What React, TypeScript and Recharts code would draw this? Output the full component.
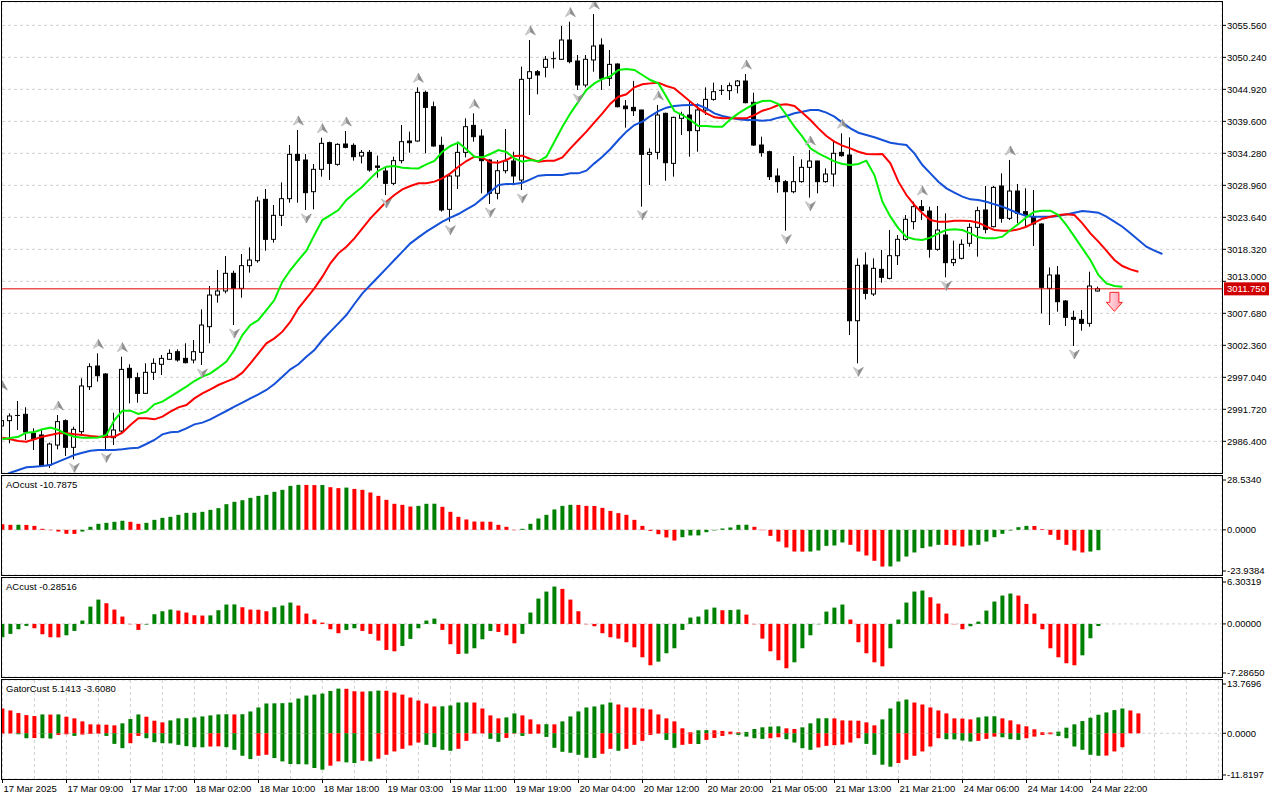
import React from 'react';
import {
  ComposedChart,
  Bar,
  Line,
  Scatter,
  XAxis,
  YAxis,
  CartesianGrid,
  ReferenceLine,
  Cell
} from 'recharts';

const FONT = "'Liberation Sans', Arial, sans-serif";
const UP = '#008000';
const DOWN = '#ff0000';
const GRID = '#d0d0d0';

// H1 candles, 17 Mar 01:00 .. 24 Mar 23:00
const OPEN = [
  2988.95, 2989.83, 2990.6, 2990.89, 2987.72, 2987.45, 2982.46, 2985.78, 2989.83, 2985.4,
  2988.0, 2995.48, 2998.92, 2997.59, 2987.0, 2988.11, 2998.53, 2996.98, 2994.37, 2997.87,
  2999.2, 3000.03, 3001.3, 3000.19, 2999.92, 3001.19, 3005.46, 3010.72, 3011.39, 3014.33,
  3011.83, 3015.6, 3016.43, 3026.63, 3019.98, 3023.97, 3026.74, 3034.11, 3033.17, 3027.9,
  3031.62, 3036.05, 3032.45, 3035.83, 3035.61, 3033.83, 3034.44, 3032.17, 3031.34, 3029.29,
  3033.06, 3036.33, 3036.33, 3044.42, 3042.03, 3035.61, 3024.97, 3030.51, 3034.44, 3038.93,
  3037.16, 3033.17, 3027.63, 3031.39, 3033.0, 3029.84, 3046.75, 3047.85, 3048.58, 3049.91,
  3049.91, 3053.12, 3049.63, 3045.64, 3049.8, 3052.29, 3046.75, 3049.13, 3042.14, 3041.92,
  3041.48, 3034.11, 3034.44, 3040.93, 3032.61, 3040.1, 3040.65, 3038.05, 3041.48, 3043.25,
  3044.64, 3044.7, 3045.53, 3046.3, 3042.76, 3035.66, 3034.55, 3030.51, 3029.57, 3027.9,
  3029.57, 3031.95, 3033.0, 3029.57, 3030.84, 3034.44, 3034.0, 3006.45, 3015.71, 3010.89,
  3014.99, 3013.49, 3017.26, 3019.98, 3022.92, 3025.41, 3024.69, 3018.32, 3020.7, 3016.1,
  3016.82, 3019.32, 3021.97, 3024.86, 3022.09, 3028.85, 3023.47, 3028.01, 3024.58, 3023.75,
  3022.53, 3011.83, 3014.05, 3009.73, 3007.01, 3006.68, 3006.01, 3011.39
];
const HIGH = [
  2994.1, 2991.05, 2993.1, 2992.05, 2988.56, 2988.28, 2986.17, 2990.77, 2990.05, 2988.83,
  2996.87, 2999.36, 3001.02, 2997.75, 2991.16, 3000.47, 2999.2, 2997.81, 2999.36, 3000.19,
  3000.75, 3001.69, 3001.69, 3002.69, 3003.24, 3008.34, 3012.22, 3014.88, 3017.21, 3014.77,
  3017.54, 3018.65, 3027.07, 3028.35, 3025.69, 3029.45, 3035.66, 3038.16, 3034.17, 3032.5,
  3036.88, 3036.22, 3035.94, 3037.99, 3035.94, 3034.83, 3034.83, 3033.89, 3032.06, 3033.72,
  3038.99, 3037.88, 3045.25, 3044.7, 3042.87, 3037.05, 3030.95, 3036.22, 3040.1, 3040.93,
  3038.27, 3033.28, 3033.17, 3038.32, 3034.55, 3048.69, 3053.12, 3048.13, 3050.46, 3051.18,
  3055.45, 3056.17, 3050.63, 3050.63, 3057.44, 3053.4, 3051.46, 3049.24, 3043.14, 3046.3,
  3041.54, 3035.11, 3042.31, 3041.04, 3040.37, 3041.2, 3043.14, 3042.59, 3045.25, 3046.03,
  3045.64, 3046.03, 3046.47, 3047.47, 3044.36, 3037.05, 3034.72, 3031.78, 3029.84, 3033.83,
  3033.28, 3034.83, 3033.06, 3031.78, 3036.22, 3037.6, 3036.94, 3016.82, 3017.82, 3016.82,
  3018.21, 3021.53, 3020.7, 3024.02, 3026.24, 3026.52, 3025.41, 3025.52, 3024.3, 3019.76,
  3019.98, 3022.64, 3025.41, 3028.85, 3028.85, 3030.95, 3033.17, 3029.18, 3028.46, 3028.18,
  3022.64, 3015.32, 3015.54, 3009.89, 3008.12, 3008.23, 3014.6, 3012.11
];
const LOW = [
  2988.28, 2986.06, 2988.28, 2986.62, 2984.95, 2982.29, 2981.96, 2985.06, 2983.96, 2983.4,
  2987.28, 2994.93, 2996.32, 2985.06, 2985.78, 2987.72, 2992.71, 2992.82, 2994.26, 2996.59,
  2997.42, 2999.92, 2999.64, 2999.36, 2999.36, 2999.09, 3002.69, 3009.45, 3011.0, 3005.73,
  3010.28, 3014.44, 3016.1, 3018.09, 3019.43, 3022.2, 3026.07, 3026.07, 3024.86, 3024.97,
  3030.4, 3029.84, 3032.23, 3035.11, 3033.06, 3032.61, 3031.23, 3030.23, 3027.35, 3029.01,
  3032.61, 3034.39, 3036.22, 3034.28, 3035.38, 3024.58, 3022.92, 3028.35, 3033.61, 3036.22,
  3027.63, 3025.85, 3026.63, 3030.95, 3029.29, 3028.18, 3040.65, 3044.09, 3046.91, 3048.41,
  3049.8, 3049.24, 3044.81, 3045.25, 3047.85, 3044.81, 3045.47, 3041.92, 3038.54, 3040.48,
  3025.41, 3029.01, 3033.28, 3029.73, 3030.4, 3037.32, 3033.72, 3034.55, 3040.65, 3043.03,
  3043.98, 3043.14, 3044.25, 3042.59, 3035.5, 3033.72, 3029.84, 3027.74, 3021.42, 3027.63,
  3029.4, 3026.91, 3027.63, 3029.4, 3028.74, 3033.72, 3004.07, 2999.36, 3010.0, 3010.56,
  3012.77, 3013.33, 3015.71, 3019.76, 3021.64, 3023.19, 3016.93, 3018.09, 3013.66, 3015.54,
  3016.65, 3018.76, 3017.1, 3020.98, 3021.97, 3022.75, 3023.19, 3022.64, 3022.2, 3018.87,
  3007.68, 3005.73, 3007.95, 3005.57, 3002.25, 3004.79, 3005.46, 3011.28
];
const CLOSE = [
  2989.83, 2990.61, 2990.7, 2987.95, 2986.83, 2982.4, 2985.95, 2989.67, 2985.4, 2988.39,
  2995.6, 2998.81, 2997.31, 2987.06, 2988.28, 2998.36, 2996.98, 2994.37, 2997.87, 2999.36,
  3000.19, 3001.02, 2999.92, 2999.47, 3001.3, 3005.73, 3010.72, 3011.39, 3014.33, 3011.83,
  3015.6, 3016.54, 3026.35, 3019.98, 3023.97, 3026.74, 3034.11, 3033.11, 3027.74, 3031.62,
  3035.94, 3032.61, 3035.77, 3035.27, 3033.72, 3034.44, 3031.51, 3031.95, 3029.29, 3033.06,
  3036.22, 3036.05, 3044.42, 3041.92, 3035.5, 3024.86, 3030.51, 3034.44, 3038.71, 3037.05,
  3033.06, 3027.63, 3031.39, 3033.0, 3030.51, 3046.58, 3047.85, 3047.3, 3049.91, 3050.02,
  3053.12, 3049.52, 3045.64, 3049.91, 3052.12, 3046.75, 3049.07, 3042.03, 3041.7, 3041.37,
  3034.11, 3034.44, 3040.65, 3032.72, 3040.26, 3040.76, 3038.05, 3041.48, 3043.25, 3044.53,
  3044.75, 3045.53, 3046.3, 3042.7, 3035.66, 3034.39, 3030.4, 3029.57, 3027.9, 3029.57,
  3031.95, 3033.0, 3029.57, 3030.84, 3034.28, 3033.89, 3006.45, 3015.65, 3011.0, 3015.16,
  3013.66, 3017.26, 3019.98, 3023.31, 3025.41, 3024.75, 3018.32, 3021.53, 3016.1, 3016.65,
  3019.15, 3021.97, 3024.75, 3021.64, 3028.62, 3023.47, 3028.01, 3024.3, 3024.02, 3022.53,
  3012.0, 3014.05, 3009.61, 3007.01, 3006.68, 3006.01, 3012.22, 3011.75
];

// Alligator lines (already shifted forward, so they run past the last candle)
const LIPS = [
  2986.73, 2986.95, 2987.17, 2987.83, 2987.95, 2988.39, 2988.67, 2988.28, 2987.61, 2987.17,
  2987.0, 2987.0, 2987.02, 2987.45, 2989.94, 2991.49, 2991.49, 2990.94, 2991.33, 2992.55,
  2992.99, 2993.82, 2994.65, 2995.48, 2996.42, 2997.15, 2997.7, 2998.64, 2999.64, 3001.58,
  3004.07, 3005.74, 3006.57, 3008.23, 3009.89, 3012.94, 3014.88, 3016.54, 3018.09, 3020.7,
  3023.19, 3024.02, 3024.85, 3026.52, 3027.63, 3028.73, 3030.12, 3031.39, 3032.06, 3032.17,
  3031.89, 3031.78, 3031.77, 3032.45, 3033.0, 3034.55, 3035.5, 3036.05, 3034.94, 3033.72,
  3033.61, 3034.17, 3034.83, 3034.5, 3033.44, 3032.89, 3033.17, 3032.95, 3033.72, 3036.22,
  3038.71, 3040.93, 3042.87, 3044.81, 3045.91, 3046.64, 3047.08, 3048.13, 3048.3, 3048.13,
  3047.3, 3046.47, 3045.91, 3043.7, 3041.31, 3040.65, 3039.82, 3038.82, 3038.82, 3038.71,
  3038.71, 3039.93, 3040.93, 3041.76, 3042.48, 3042.98, 3043.03, 3042.48, 3040.65, 3038.71,
  3037.05, 3035.11, 3034.28, 3033.61, 3032.95, 3032.5, 3032.34, 3032.5, 3033.06, 3030.67,
  3026.24, 3023.75, 3021.81, 3020.37, 3019.98, 3019.87, 3020.26, 3020.98, 3021.53, 3021.64,
  3021.53, 3020.98, 3020.31, 3020.14, 3020.14, 3020.42, 3021.53, 3022.53, 3023.64, 3024.58,
  3024.74, 3024.74, 3024.02, 3022.36, 3020.42, 3018.48, 3016.54, 3014.05, 3012.66, 3012.22,
  3012.11
];
const TEETH = [
  2987.0, 2986.73, 2986.45, 2986.34, 2986.73, 2987.17, 2987.45, 2987.72, 2987.72, 2987.56,
  2987.45, 2987.28, 2987.17, 2987.17, 2987.16, 2987.83, 2989.11, 2990.22, 2990.22, 2990.05,
  2990.49, 2991.33, 2992.05, 2992.43, 2993.54, 2994.37, 2995.04, 2995.76, 2996.31, 2996.87,
  2997.81, 2999.36, 3001.02, 3002.69, 3003.52, 3004.63, 3006.29, 3008.51, 3010.17, 3011.83,
  3013.77, 3015.99, 3017.65, 3018.76, 3020.14, 3021.81, 3023.47, 3024.85, 3026.24, 3027.35,
  3028.29, 3028.85, 3029.29, 3029.29, 3029.57, 3030.12, 3030.95, 3032.06, 3033.0, 3033.72,
  3033.56, 3032.78, 3032.72, 3033.17, 3033.83, 3033.89, 3033.33, 3032.89, 3033.06, 3033.06,
  3033.61, 3035.11, 3036.49, 3037.88, 3039.43, 3040.93, 3042.53, 3043.7, 3044.09, 3045.25,
  3045.75, 3045.91, 3046.03, 3045.47, 3045.08, 3043.97, 3042.87, 3041.76, 3040.93, 3040.26,
  3040.1, 3040.1, 3040.1, 3040.1, 3040.65, 3041.37, 3041.76, 3042.31, 3042.42, 3042.15,
  3041.04, 3039.82, 3038.43, 3037.16, 3036.22, 3035.55, 3035.11, 3034.55, 3034.17, 3034.11,
  3034.17, 3032.61, 3029.57, 3027.35, 3025.69, 3024.3, 3023.19, 3022.92, 3022.92, 3023.08,
  3023.08, 3023.03, 3022.75, 3022.08, 3021.53, 3021.42, 3021.42, 3021.64, 3022.08, 3022.75,
  3023.41, 3023.75, 3024.02, 3024.13, 3024.02, 3022.64, 3020.98, 3019.59, 3018.09, 3016.54,
  3015.54, 3014.99, 3014.6
];
const JAW = [
  2980.63, 2981.18, 2981.63, 2982.07, 2982.18, 2982.29, 2982.46, 2983.01, 2983.57, 2984.12,
  2984.51, 2984.84, 2984.95, 2984.95, 2984.96, 2985.06, 2985.23, 2985.34, 2985.95, 2986.62,
  2987.56, 2987.89, 2988.0, 2988.55, 2989.22, 2989.5, 2990.05, 2990.77, 2991.44, 2992.16,
  2992.82, 2993.54, 2994.21, 2994.93, 2995.93, 2997.15, 2998.36, 2999.2, 3000.47, 3001.58,
  3003.24, 3004.63, 3006.01, 3007.4, 3009.23, 3011.0, 3012.39, 3013.77, 3015.16, 3016.54,
  3017.93, 3019.31, 3020.31, 3021.25, 3022.08, 3022.92, 3023.58, 3024.19, 3024.97, 3025.69,
  3026.79, 3027.9, 3029.01, 3029.18, 3029.18, 3029.4, 3029.95, 3030.56, 3030.67, 3030.67,
  3030.68, 3030.95, 3030.95, 3031.39, 3032.61, 3033.72, 3035.0, 3036.49, 3037.88, 3038.99,
  3039.54, 3040.48, 3041.31, 3041.87, 3042.15, 3042.26, 3042.31, 3042.31, 3041.76, 3040.93,
  3040.48, 3040.21, 3039.93, 3039.82, 3039.82, 3039.71, 3039.82, 3040.21, 3040.48, 3040.93,
  3041.2, 3041.48, 3041.48, 3041.04, 3040.37, 3039.38, 3038.43, 3037.71, 3037.32, 3036.94,
  3036.49, 3036.05, 3035.83, 3035.66, 3034.28, 3032.34, 3030.95, 3029.57, 3028.46, 3027.74,
  3027.07, 3026.63, 3026.52, 3026.24, 3025.8, 3025.41, 3024.85, 3024.3, 3023.86, 3023.75,
  3023.75, 3023.74, 3023.86, 3024.13, 3024.41, 3024.69, 3024.58, 3024.41, 3023.75, 3022.92,
  3022.08, 3020.98, 3019.87, 3018.76, 3018.09, 3017.54
];

const UP_FRACTALS = [0, 7, 12, 15, 37, 40, 43, 52, 59, 66, 71, 74, 82, 93, 101, 105, 115, 126];
const DOWN_FRACTALS = [6, 9, 13, 25, 29, 38, 48, 56, 61, 65, 72, 80, 98, 101, 107, 118, 134];
const SELL_BARS = [139];
const SELL_PRICES = [3011.17];
const LAST_PRICE = 3011.75;

const AO = [
  3.0, 2.65, 2.7, 2.6, 2.1, 0.55, -0.2, -0.9, -2.1, -2.15,
  -0.9, 1.6, 3.2, 3.7, 4.25, 4.8, 4.25, 3.2, 3.7, 5.3,
  6.35, 6.9, 7.95, 9.0, 9.05, 9.55, 10.6, 11.5, 13.6, 14.85,
  15.7, 16.95, 18.0, 18.55, 20.15, 21.2, 23.3, 23.85, 23.8, 23.7,
  23.75, 22.6, 22.1, 22.4, 21.7, 21.2, 19.8, 18.0, 15.9, 13.8,
  13.25, 12.35, 12.7, 13.8, 13.85, 12.2, 9.55, 6.9, 5.5, 4.4,
  4.35, 4.3, 2.65, 1.6, -0.2, 0.55, 3.2, 6.0, 7.95, 10.8,
  12.7, 13.25, 13.2, 12.7, 12.65, 11.65, 10.05, 8.85, 7.95, 5.3,
  2.1, -0.55, -2.3, -4.05, -5.65, -3.9, -3.0, -2.95, -1.25, -0.3,
  0.7, 1.25, 2.65, 2.7, 1.6, -0.2, -3.2, -6.2, -9.35, -11.5,
  -11.55, -11.5, -10.95, -8.5, -8.3, -6.7, -7.95, -11.5, -13.6, -16.4,
  -19.45, -19.4, -16.8, -14.15, -12.0, -9.7, -8.85, -7.95, -8.0, -8.3,
  -8.85, -8.3, -7.95, -6.2, -3.9, -2.1, -0.35, 1.4, 2.1, 2.05,
  0.35, -2.65, -5.3, -7.95, -10.95, -12.0, -11.5, -10.7875
];
const AC = [
  -1.83, -1.37, -0.73, -0.27, -0.6, -1.42, -1.83, -1.85, -1.56, -0.96,
  0.46, 2.38, 3.34, 2.84, 1.97, 1.01, -0.05, -0.82, -0.09, 1.33,
  1.74, 1.97, 1.83, 1.56, 1.19, 1.15, 1.17, 1.88, 2.66, 2.68,
  2.29, 1.97, 1.95, 1.74, 2.29, 2.52, 2.93, 2.52, 1.42, 0.6,
  0.18, -0.73, -1.28, -0.82, -0.6, -0.96, -1.37, -2.29, -3.57, -3.76,
  -3.02, -2.06, -0.6, 0.46, 0.73, -0.82, -2.79, -4.12, -4.08, -3.34,
  -2.11, -0.96, -1.1, -1.56, -2.66, -1.37, 1.56, 3.48, 4.44, 5.13,
  4.81, 3.34, 1.74, -0.05, -0.32, -1.28, -1.83, -2.02, -2.52, -3.21,
  -4.58, -5.68, -5.18, -4.03, -3.34, -0.82, 0.87, 1.01, 1.97, 2.24,
  1.88, 1.9, 1.97, 1.28, -0.05, -2.02, -3.76, -4.99, -6.09, -5.27,
  -3.34, -1.56, -0.05, 1.69, 2.24, 2.66, 0.6, -2.52, -4.03, -5.27,
  -5.82, -3.34, 0.6, 2.93, 4.44, 4.58, 3.66, 2.79, 1.42, -0.05,
  -0.73, -0.32, 0.32, 1.83, 3.07, 3.89, 4.17, 3.89, 2.75, 1.42,
  -0.73, -3.34, -4.58, -5.4, -5.68, -4.31, -1.97, -0.28516
];
const GATOR_UP = [
  6.41, 5.9, 5.22, 4.7, 4.45, 4.87, 4.83, 4.88, 4.28, 3.85,
  3.08, 2.31, 2.27, 2.22, 2.05, 2.57, 3.68, 4.87, 4.28, 3.25,
  2.82, 3.33, 3.85, 3.89, 4.1, 4.36, 4.62, 4.87, 4.92, 4.87,
  4.92, 5.64, 6.67, 7.7, 7.74, 7.78, 7.95, 8.98, 9.75, 10.0,
  10.26, 10.94, 11.54, 11.5, 10.86, 10.77, 10.86, 11.03, 10.99, 10.52,
  10.0, 9.23, 8.46, 7.7, 6.93, 6.97, 7.18, 7.95, 7.99, 7.95,
  6.41, 4.62, 3.85, 4.1, 5.13, 4.62, 3.59, 2.31, 2.35, 2.31,
  3.08, 4.36, 5.64, 6.67, 6.93, 7.44, 7.95, 7.44, 6.67, 6.63,
  6.41, 6.16, 4.87, 3.85, 3.08, 1.28, 0.26, 0.77, 0.81, 0.77,
  0.6, 0.43, 0.26, 0.34, 1.11, 1.54, 1.71, 1.8, 1.28, 1.11,
  1.54, 2.57, 3.85, 3.89, 3.85, 3.33, 3.29, 3.25, 2.82, 2.05,
  3.59, 6.41, 8.21, 8.72, 7.95, 7.44, 6.67, 5.9, 5.13, 3.85,
  3.8, 3.59, 4.1, 4.36, 4.4, 3.85, 3.33, 2.31, 1.8, 1.03,
  0.26, 0.21, 0.43, 1.45, 2.31, 3.16, 4.02, 4.79, 5.39, 5.99,
  6.41, 5.9, 5.1413
];
const GATOR_DN = [
  -0.09, -0.04, -0.26, -1.28, -1.24, -1.28, -1.37, -0.43, -0.26, -0.68,
  -0.34, -0.17, -0.09, -0.68, -2.74, -3.85, -2.57, -0.68, -1.28, -2.31,
  -2.57, -2.61, -2.99, -3.33, -3.59, -3.63, -3.42, -3.38, -3.59, -4.28,
  -5.81, -6.67, -5.81, -5.56, -6.41, -7.27, -7.95, -7.99, -8.04, -8.98,
  -9.41, -8.38, -7.27, -7.52, -7.7, -7.1, -7.27, -6.58, -5.56, -4.7,
  -4.02, -3.16, -2.39, -2.99, -3.59, -4.28, -4.53, -4.02, -1.97, -0.09,
  -0.04, -1.45, -2.22, -1.2, -0.09, -0.68, -0.17, -0.09, -0.94, -3.76,
  -4.79, -5.04, -5.56, -6.33, -6.37, -5.3, -4.02, -4.53, -4.02, -2.99,
  -1.97, -0.43, -0.09, -1.71, -3.76, -2.99, -2.74, -2.78, -1.71, -1.2,
  -0.68, -0.26, -0.43, -0.86, -1.28, -1.45, -1.28, -1.03, -1.54, -2.39,
  -3.85, -4.28, -3.68, -3.25, -3.08, -2.91, -2.39, -1.28, -2.74, -5.56,
  -8.12, -8.64, -7.7, -6.84, -5.81, -4.7, -3.42, -1.28, -1.54, -1.58,
  -1.88, -2.14, -1.97, -1.45, -0.86, -1.03, -1.54, -1.71, -1.28, -0.86,
  -0.43, -0.26, -0.68, -1.28, -3.42, -4.28, -5.56, -5.81, -5.77, -4.7,
  -3.608
];

const PRICE_TICKS = [
  3055.56, 3050.24, 3044.92, 3039.6, 3034.28, 3028.96, 3023.64,
  3018.32, 3013.0, 3007.68, 3002.36, 2997.04, 2991.72, 2986.4
];
const TIME_LABELS = [
  '17 Mar 2025', '17 Mar 09:00', '17 Mar 17:00', '18 Mar 02:00', '18 Mar 10:00', '18 Mar 18:00',
  '19 Mar 03:00', '19 Mar 11:00', '19 Mar 19:00', '20 Mar 04:00', '20 Mar 12:00', '20 Mar 20:00',
  '21 Mar 05:00', '21 Mar 13:00', '21 Mar 21:00', '24 Mar 06:00', '24 Mar 14:00', '24 Mar 22:00'
];

const X_DOMAIN = [-0.05, 152.45];
const PRICE_DOMAIN = [2981.13, 3059.44];
const AO_RANGE = [-23.9384, 28.534];
const AC_RANGE = [-7.2865, 6.30319];
const GATOR_RANGE = [-11.8197, 13.7696];

// every 4th bar gets a grid line, every 8th a time label
const GRID_TICKS = Array.from({ length: 39 }, (_, k) => k * 4);

const rows = JAW.map((_, i) => ({
  i,
  range: i < OPEN.length ? [LOW[i], HIGH[i]] : null,
  o: i < OPEN.length ? OPEN[i] : null,
  h: i < OPEN.length ? HIGH[i] : null,
  l: i < OPEN.length ? LOW[i] : null,
  c: i < OPEN.length ? CLOSE[i] : null,
  lips: i < LIPS.length ? LIPS[i] : null,
  teeth: i < TEETH.length ? TEETH[i] : null,
  jaw: JAW[i],
  ao: i < AO.length ? AO[i] : null,
  ac: i < AC.length ? AC[i] : null,
  gu: i < GATOR_UP.length ? GATOR_UP[i] : null,
  gd: i < GATOR_DN.length ? GATOR_DN[i] : null
}));

const upPoints = UP_FRACTALS.map((i) => ({ i, p: HIGH[i] }));
const downPoints = DOWN_FRACTALS.map((i) => ({ i, p: LOW[i] }));
const sellPoints = SELL_BARS.map((i, k) => ({ i, p: SELL_PRICES[k] }));

// histogram colour: rising vs previous bar
const rising = (vals: number[], first: boolean, useAbs = false) =>
  vals.map((v, k) => {
    if (k === 0) return first;
    return useAbs ? Math.abs(v) > Math.abs(vals[k - 1]) : v > vals[k - 1];
  });
const aoUp = rising(AO, false);
const acUp = rising(AC, true);
const guUp = rising(GATOR_UP, false);
const gdUp = rising(GATOR_DN, false, true);

const colorOf = (flags: boolean[], i: number) =>
  i < flags.length ? (flags[i] ? UP : DOWN) : 'none';

const Candle = (props: any) => {
  const { x, y, width, height, payload } = props;
  if (!payload || payload.o == null || !Number.isFinite(y) || !Number.isFinite(x)) return <g />;
  const { o, h, l, c } = payload;
  const top = Math.min(y, y + height);
  const span = Math.abs(height);
  const k = h > l ? span / (h - l) : 0;
  const py = (p: number) => top + (h - p) * k;
  const cx = Math.floor(x + width / 2) + 0.5;
  const bTop = py(Math.max(o, c));
  const bBot = py(Math.min(o, c));
  const bull = c >= o;
  return (
    <g>
      <line x1={cx} x2={cx} y1={top} y2={top + span} stroke="#000" strokeWidth={1} />
      {bBot - bTop < 1 ? (
        <line x1={cx - 2.5} x2={cx + 2.5} y1={bTop} y2={bTop} stroke="#000" strokeWidth={1} />
      ) : (
        <rect
          x={cx - 2}
          y={bTop}
          width={4}
          height={bBot - bTop}
          fill={bull ? '#fff' : '#000'}
          stroke="#000"
          strokeWidth={1}
        />
      )}
    </g>
  );
};

const FractalMark = (props: any) => {
  const { cx, cy, dir } = props;
  if (!Number.isFinite(cx) || !Number.isFinite(cy)) return <g />;
  const t = dir === 'up' ? 1 : -1;
  const y0 = dir === 'up' ? cy - 9 : cy + 8;
  const tip = `${cx},${y0 - 5 * t}`;
  const notch = `${cx},${y0 + 1 * t}`;
  const left = `${cx - 5},${y0 + 4 * t}`;
  const right = `${cx + 5},${y0 + 4 * t}`;
  return (
    <g>
      <polygon points={`${tip} ${left} ${notch}`} fill="#cfcfcf" stroke="#a8a8a8" strokeWidth={0.6} />
      <polygon points={`${tip} ${notch} ${right}`} fill="#8c8c8c" stroke="#8c8c8c" strokeWidth={0.6} />
    </g>
  );
};

const SellArrow = (props: any) => {
  const { cx, cy } = props;
  if (!Number.isFinite(cx) || !Number.isFinite(cy)) return <g />;
  const pts = [
    [cx - 4.5, cy],
    [cx + 4.5, cy],
    [cx + 4.5, cy + 10],
    [cx + 8, cy + 10],
    [cx, cy + 19],
    [cx - 8, cy + 10],
    [cx - 4.5, cy + 10]
  ]
    .map((p) => p.join(','))
    .join(' ');
  return (
    <g>
      <defs>
        <linearGradient id="sellFill" x1="0" y1="0" x2="1" y2="0">
          <stop offset="0%" stopColor="#ffe6ea" />
          <stop offset="100%" stopColor="#ff9aae" />
        </linearGradient>
      </defs>
      <polygon points={pts} fill="url(#sellFill)" stroke="#ff2020" strokeWidth={1} />
    </g>
  );
};

const PriceTick = (props: any) => {
  const { x, payload } = props;
  const v = Number(payload.value);
  // the level right above the live price tag is lifted a little so the tag doesn't hide it
  const y = Math.abs(v - LAST_PRICE) < 2 ? props.y - 5 : props.y;
  return (
    <g>
      <line x1={x} x2={x + 4} y1={props.y} y2={props.y} stroke="#000" />
      <text x={x + 5} y={y} dy="0.35em" fontSize={9.5} fontFamily={FONT} fill="#000">
        {v.toFixed(3)}
      </text>
    </g>
  );
};

const makeSubTick = (digits: number, lo: number, hi: number) => (props: any) => {
  const { x, payload } = props;
  const v = Number(payload.value);
  const y = v === hi ? props.y + 4 : v === lo ? props.y - 4 : props.y;
  return (
    <g>
      <line x1={x} x2={x + 4} y1={y} y2={y} stroke="#000" />
      <text x={x + 5} y={y} dy="0.35em" fontSize={9.5} fontFamily={FONT} fill="#000">
        {v.toFixed(digits)}
      </text>
    </g>
  );
};
const AoTick = makeSubTick(4, AO_RANGE[0], AO_RANGE[1]);
const AcTick = makeSubTick(5, AC_RANGE[0], AC_RANGE[1]);
const GatorTick = makeSubTick(4, GATOR_RANGE[0], GATOR_RANGE[1]);

const TimeTick = (props: any) => {
  const { x, y, payload } = props;
  const v = Number(payload.value);
  const label = v % 8 === 0 ? TIME_LABELS[v / 8] : undefined;
  if (!label) return <g />;
  const lx = Math.floor(x) + 0.5;
  return (
    <g>
      <line x1={lx} x2={lx} y1={y} y2={y + 4} stroke="#000" />
      <text x={x + 1} y={y + 13} fontSize={9.5} fontFamily={FONT} fill="#000" textAnchor="start">
        {label}
      </text>
    </g>
  );
};

const PriceTag = (props: any) => {
  const vb = props.viewBox || {};
  const bx = vb.x + vb.width + 2;
  const y = vb.y;
  if (!Number.isFinite(bx) || !Number.isFinite(y)) return null;
  return (
    <g>
      <rect x={bx} y={y - 6.5} width={45} height={13} fill="#d00000" />
      <text x={bx + 3} y={y} dy="0.35em" fontSize={9.5} fontFamily={FONT} fill="#fff">
        {LAST_PRICE.toFixed(3)}
      </text>
    </g>
  );
};

const frame = (top: number, height: number) => (
  <div
    style={{
      position: 'absolute',
      left: 1,
      top,
      width: 1222,
      height,
      border: '1px solid #000',
      boxSizing: 'border-box',
      pointerEvents: 'none'
    }}
  />
);

const panelLabel = (top: number, text: string) => (
  <div
    style={{
      position: 'absolute',
      left: 6,
      top,
      fontFamily: FONT,
      fontSize: 9.5,
      lineHeight: '12px',
      color: '#000',
      whiteSpace: 'nowrap'
    }}
  >
    {text}
  </div>
);

const gridXAxis = (
  <XAxis
    type="number"
    dataKey="i"
    domain={X_DOMAIN}
    allowDataOverflow
    ticks={GRID_TICKS}
    interval={0}
    tick={false}
    tickLine={false}
    axisLine={false}
    height={0}
  />
);

export default function App() {
  return (
    <div
      style={{
        position: 'absolute',
        left: 0,
        top: 0,
        width: 1280,
        height: 800,
        background: '#fff',
        overflow: 'hidden'
      }}
    >
      {/* price panel */}
      <div style={{ position: 'absolute', left: 0, top: 0 }}>
        <ComposedChart width={1280} height={475} data={rows} margin={{ top: 2, right: 0, bottom: 2, left: 2 }}>
          <CartesianGrid stroke={GRID} strokeDasharray="3 3" />
          {gridXAxis}
          <YAxis
            orientation="right"
            width={58}
            domain={PRICE_DOMAIN}
            allowDataOverflow
            ticks={PRICE_TICKS}
            interval={0}
            tick={<PriceTick />}
            tickSize={0}
            tickMargin={0}
            tickLine={false}
            axisLine={false}
          />
          <ReferenceLine y={LAST_PRICE} stroke="#e00000" strokeWidth={1} label={<PriceTag />} />
          <Bar dataKey="range" barSize={5} shape={<Candle />} isAnimationActive={false} />
          <Line type="linear" dataKey="jaw" stroke="#1450d8" strokeWidth={2} dot={false} isAnimationActive={false} />
          <Line type="linear" dataKey="teeth" stroke="#ff0000" strokeWidth={2} dot={false} isAnimationActive={false} />
          <Line type="linear" dataKey="lips" stroke="#00f000" strokeWidth={2} dot={false} isAnimationActive={false} />
          <Scatter
            data={upPoints}
            dataKey="p"
            shape={(p: any) => <FractalMark cx={p.cx} cy={p.cy} dir="up" />}
            isAnimationActive={false}
          />
          <Scatter
            data={downPoints}
            dataKey="p"
            shape={(p: any) => <FractalMark cx={p.cx} cy={p.cy} dir="down" />}
            isAnimationActive={false}
          />
          <Scatter
            data={sellPoints}
            dataKey="p"
            shape={(p: any) => <SellArrow cx={p.cx} cy={p.cy} />}
            isAnimationActive={false}
          />
        </ComposedChart>
      </div>

      {/* AO panel */}
      <div style={{ position: 'absolute', left: 0, top: 474 }}>
        <ComposedChart width={1280} height={102} data={rows} margin={{ top: 2, right: 0, bottom: 1, left: 2 }}>
          <CartesianGrid stroke={GRID} strokeDasharray="3 3" />
          {gridXAxis}
          <YAxis
            orientation="right"
            width={58}
            domain={AO_RANGE}
            allowDataOverflow
            ticks={[AO_RANGE[1], 0, AO_RANGE[0]]}
            interval={0}
            tick={<AoTick />}
            tickSize={0}
            tickMargin={0}
            tickLine={false}
            axisLine={false}
          />
          <Bar dataKey="ao" barSize={4} isAnimationActive={false}>
            {rows.map((r) => (
              <Cell key={r.i} fill={colorOf(aoUp, r.i)} />
            ))}
          </Bar>
        </ComposedChart>
      </div>

      {/* AC panel */}
      <div style={{ position: 'absolute', left: 0, top: 576 }}>
        <ComposedChart width={1280} height={102} data={rows} margin={{ top: 2, right: 0, bottom: 1, left: 2 }}>
          <CartesianGrid stroke={GRID} strokeDasharray="3 3" />
          {gridXAxis}
          <YAxis
            orientation="right"
            width={58}
            domain={AC_RANGE}
            allowDataOverflow
            ticks={[AC_RANGE[1], 0, AC_RANGE[0]]}
            interval={0}
            tick={<AcTick />}
            tickSize={0}
            tickMargin={0}
            tickLine={false}
            axisLine={false}
          />
          <Bar dataKey="ac" barSize={4} isAnimationActive={false}>
            {rows.map((r) => (
              <Cell key={r.i} fill={colorOf(acUp, r.i)} />
            ))}
          </Bar>
        </ComposedChart>
      </div>

      {/* Gator panel + time axis */}
      <div style={{ position: 'absolute', left: 0, top: 678 }}>
        <ComposedChart
          width={1280}
          height={122}
          data={rows}
          stackOffset="sign"
          margin={{ top: 2, right: 0, bottom: 0, left: 2 }}
        >
          <CartesianGrid stroke={GRID} strokeDasharray="3 3" />
          <XAxis
            type="number"
            dataKey="i"
            domain={X_DOMAIN}
            allowDataOverflow
            ticks={GRID_TICKS}
            interval={0}
            tick={<TimeTick />}
            tickSize={0}
            tickMargin={0}
            tickLine={false}
            axisLine={false}
            height={21}
          />
          <YAxis
            orientation="right"
            width={58}
            domain={GATOR_RANGE}
            allowDataOverflow
            ticks={[GATOR_RANGE[1], 0, GATOR_RANGE[0]]}
            interval={0}
            tick={<GatorTick />}
            tickSize={0}
            tickMargin={0}
            tickLine={false}
            axisLine={false}
          />
          <Bar dataKey="gu" stackId="g" barSize={4} isAnimationActive={false}>
            {rows.map((r) => (
              <Cell key={r.i} fill={colorOf(guUp, r.i)} />
            ))}
          </Bar>
          <Bar dataKey="gd" stackId="g" barSize={4} isAnimationActive={false}>
            {rows.map((r) => (
              <Cell key={r.i} fill={colorOf(gdUp, r.i)} />
            ))}
          </Bar>
        </ComposedChart>
      </div>

      {frame(1, 473)}
      {frame(475, 101)}
      {frame(577, 101)}
      {frame(679, 101)}

      {panelLabel(479, `AOcust ${AO[AO.length - 1].toFixed(4)}`)}
      {panelLabel(581, `ACcust ${AC[AC.length - 1].toFixed(5)}`)}
      {panelLabel(683, `GatorCust ${GATOR_UP[GATOR_UP.length - 1].toFixed(4)} ${GATOR_DN[GATOR_DN.length - 1].toFixed(4)}`)}
    </div>
  );
}
